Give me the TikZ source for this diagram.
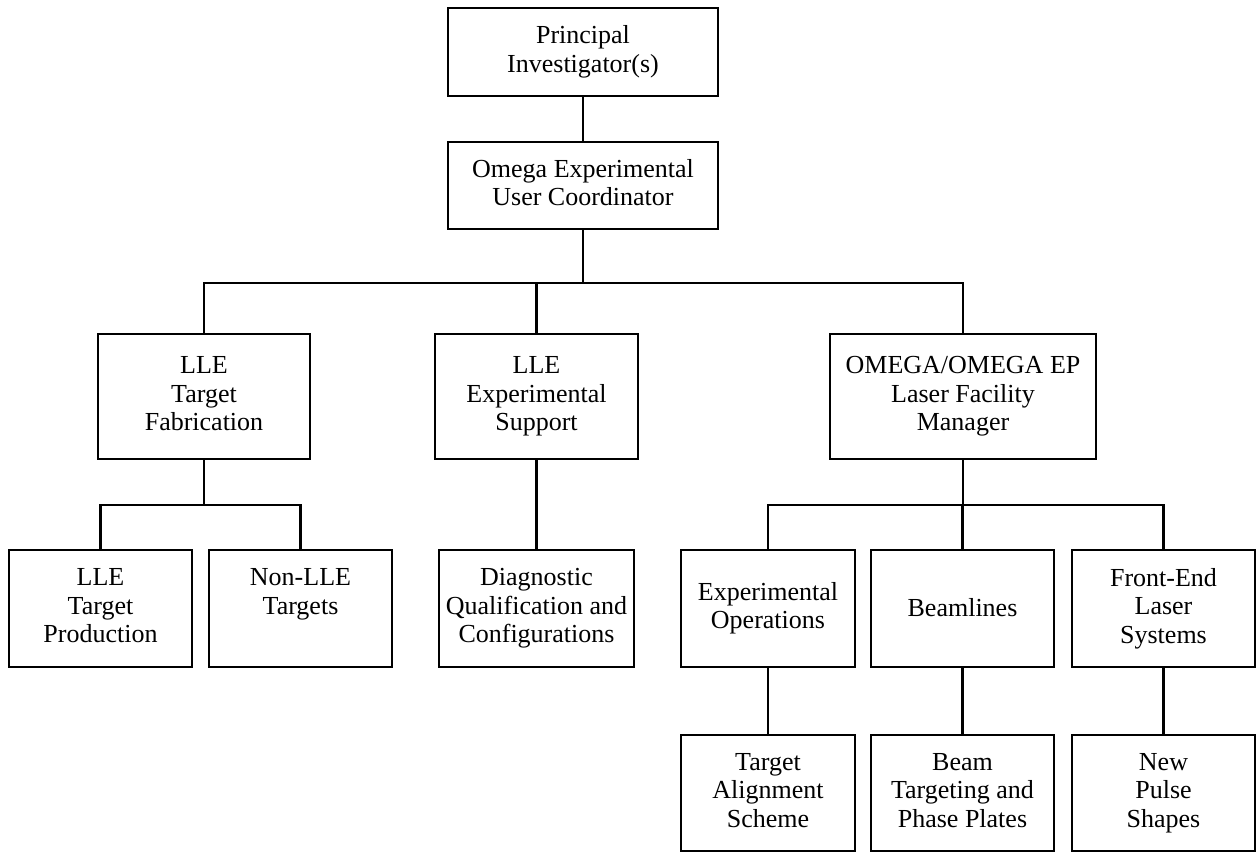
\documentclass[tikz,border=0pt]{standalone}
\usepackage{fontspec}
\setmainfont{Liberation Serif}
\usepackage{tikz}

\tikzset{
	box/.style={draw, line width=2.9pt, align=center, inner sep=0pt,
		font=\fontsize{26}{28.5}\selectfont,
		execute at begin node={\rule{0pt}{22pt}},
		execute at end node={\rule[-6pt]{0pt}{6pt}}},
	link/.style={line width=2.9pt},
}

\begin{document}
\begin{tikzpicture}[x=1pt,y=-1pt]
		\useasboundingbox (0,0) rectangle (1259,852);

		% top of the chart
		\node[box, minimum width=270pt, minimum height=88pt] (pi) at (583,52) {Principal\\Investigator(s)};
		\node[box, minimum width=270pt, minimum height=87pt] (euc) at (583,185.5) {Omega Experimental\\User Coordinator};

		% second level
		\node[box, minimum width=212pt, minimum height=125pt] (tf) at (204,396.5) {LLE\\Target\\Fabrication};
		\node[box, minimum width=203pt, minimum height=125pt] (es) at (536.5,396.5) {LLE\\Experimental\\Support};
		\node[box, minimum width=266pt, minimum height=125pt] (lfm) at (963,396.5) {OMEGA/OMEGA EP\\Laser Facility\\Manager};

		% third level
		\node[box, minimum width=183pt, minimum height=117pt] (ltp) at (100.5,608.5) {LLE\\Target\\Production};
		\node[box, minimum width=183pt, minimum height=117pt] (nlt) at (300.5,608.5) {Non-LLE\\Targets\\\phantom{Targets}};
		\node[box, minimum width=195pt, minimum height=117pt] (dqc) at (536.5,608.5) {Diagnostic\\Qualification and\\Configurations};
		\node[box, minimum width=174pt, minimum height=117pt] (eo) at (768,608.5) {Experimental\\Operations};
		\node[box, minimum width=183pt, minimum height=117pt] (bl) at (962.5,608.5) {Beamlines};
		\node[box, minimum width=183pt, minimum height=117pt] (fel) at (1163.5,608.5) {Front-End\\Laser\\Systems};

		% bottom level
		\node[box, minimum width=174pt, minimum height=116pt] (tas) at (768,793) {Target\\Alignment\\Scheme};
		\node[box, minimum width=183pt, minimum height=116pt] (btp) at (962.5,793) {Beam\\Targeting and\\Phase Plates};
		\node[box, minimum width=183pt, minimum height=116pt] (nps) at (1163.5,793) {New\\Pulse\\Shapes};

		\coordinate (bus1) at (583,283);
		\coordinate (bus2) at (204,505);
		\coordinate (bus3) at (963,505);

		\draw[link] (pi) -- (euc);
		\draw[link] (euc) -- (bus1);
		\draw[link] (tf.north) |- (bus1) -| (lfm.north);
		\draw[link] (es.north) -- (es.north |- bus1);

		\draw[link] (tf) -- (bus2);
		\draw[link] (ltp.north) |- (bus2) -| (nlt.north);
		\draw[link] (es) -- (dqc);

		\draw[link] (lfm) -- (bus3);
		\draw[link] (eo.north) |- (bus3) -| (fel.north);
		\draw[link] (bl.north) -- (bl.north |- bus3);

		\draw[link] (eo) -- (tas);
		\draw[link] (bl) -- (btp);
		\draw[link] (fel) -- (nps);
	\end{tikzpicture}
\end{document}
